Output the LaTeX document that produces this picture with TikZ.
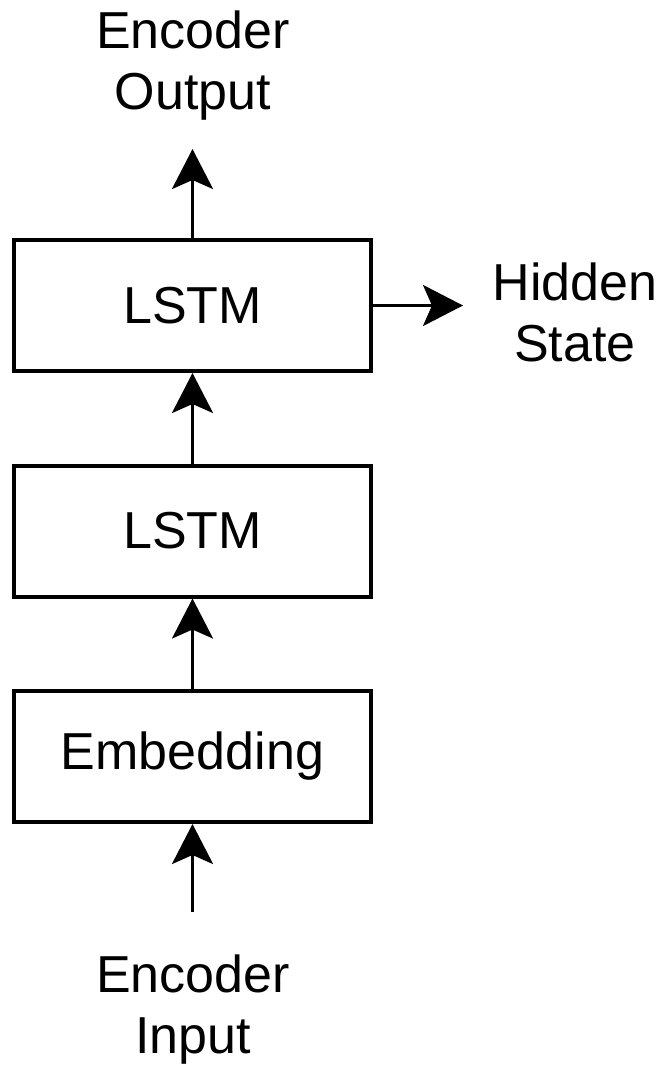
\documentclass[tikz,border=0pt]{standalone}
\usepackage{fontspec}
\setmainfont{Liberation Sans}
\usetikzlibrary{arrows.meta}
\begin{document}
\begin{tikzpicture}[x=1pt,y=-1pt,
  box/.style={draw=black,line width=4pt,minimum width=357pt,minimum height=131pt,inner sep=0pt,
    font=\fontsize{52}{60}\selectfont},
  lbl/.style={align=center,inner sep=0pt,font=\fontsize{52}{61}\selectfont},
  conn/.style={line width=3pt,-{Stealth[length=40pt,width=41pt,inset=9pt]}}]
\useasboundingbox (0,0) rectangle (664,1070);
\node[box] (lstm2) at (192.5,305.5) {\raisebox{-3pt}{LSTM}};
\node[box] (lstm1) at (192.5,531) {\raisebox{-3pt}{LSTM}};
\node[box] (emb) at (192.5,756.5) {\raisebox{-3pt}{Embedding}};
\node[lbl] (out) at (193,66) {Encoder\\Output};
\node[lbl] (hid) at (575,312) {Hidden\\State};
\node[lbl] (inp) at (193,1010) {Encoder\\Input};
\coordinate (outtip) at (192.5,149);
\coordinate (hidtip) at (463,305.5);
\coordinate (inptail) at (192.5,912);
\draw[conn] (lstm2.north) -- (outtip);
\draw[conn] (lstm2.east) -- (hidtip);
\draw[conn] (lstm1.north) -- (lstm2.south);
\draw[conn] (emb.north) -- (lstm1.south);
\draw[conn] (inptail) -- (emb.south);
\end{tikzpicture}
\end{document}
